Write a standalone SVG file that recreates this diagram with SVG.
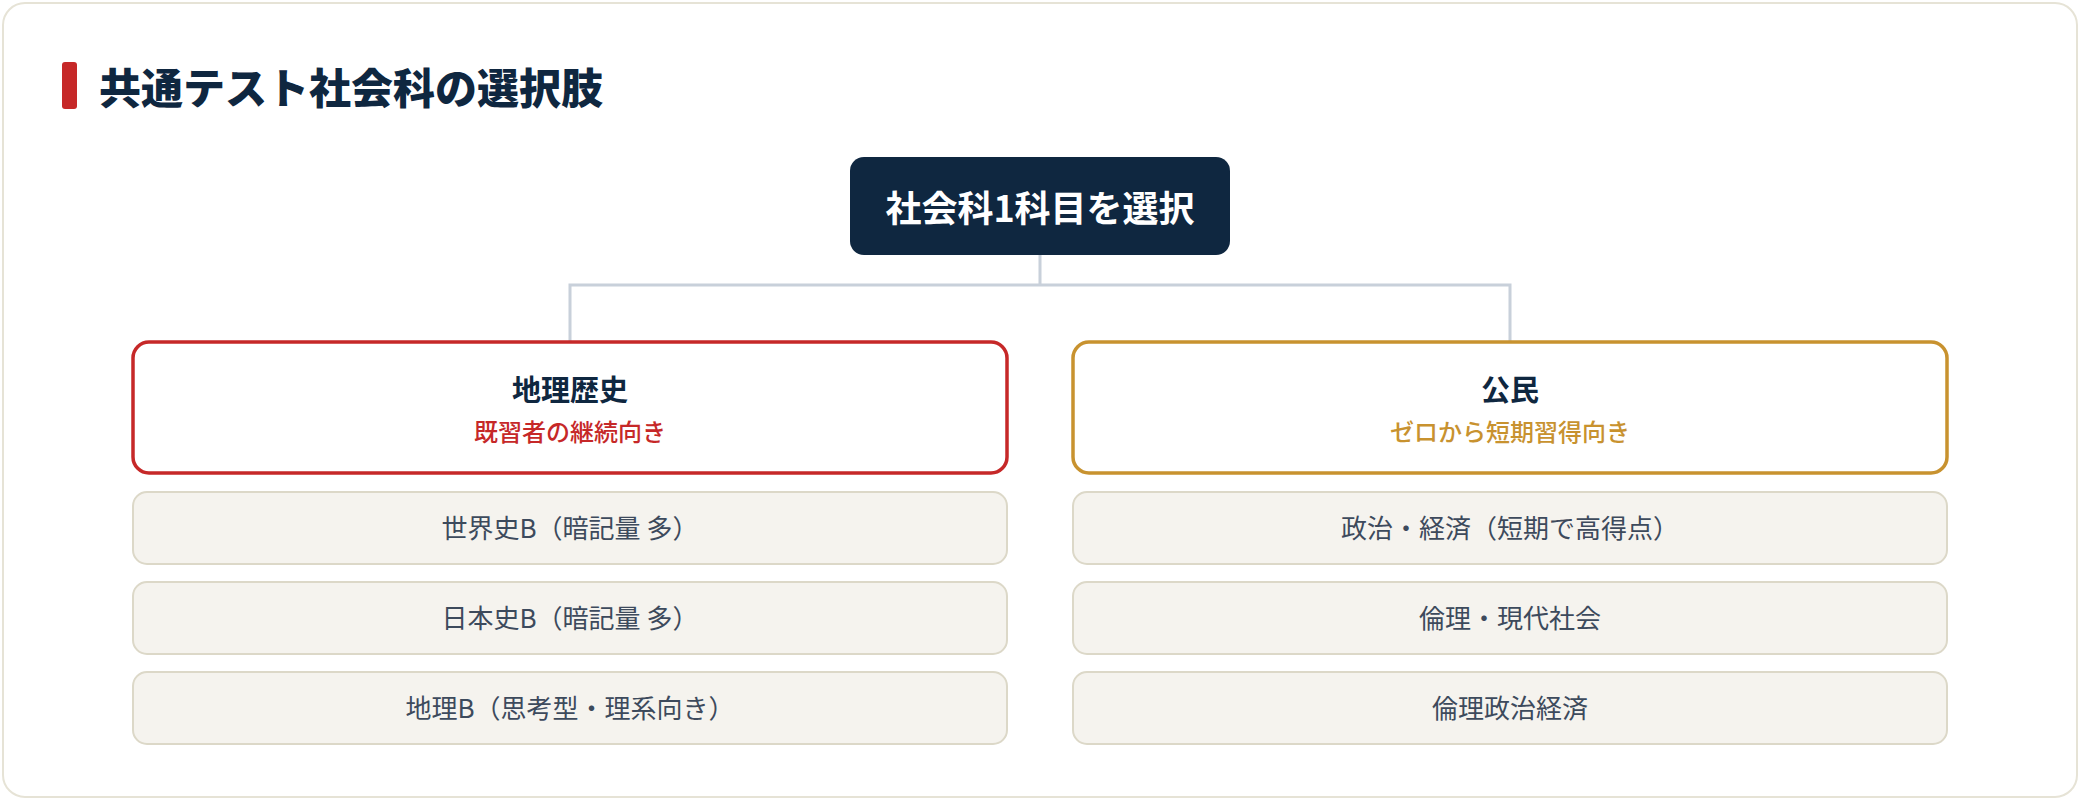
<svg xmlns="http://www.w3.org/2000/svg" width="2080" height="800" viewBox="0 0 2080 800">
  <style>
    .jp { font-family: "Noto Sans CJK JP", "Noto Sans", sans-serif; }
    .title { font-size: 42px; font-weight: 900; fill: #0f2740; }
    .root-box { fill: #0f2740; }
    .root-text { font-size: 36px; font-weight: 700; fill: #ffffff; }
    .cat-box { fill: #ffffff; stroke-width: 3.5; }
    .cat-title { font-size: 29px; font-weight: 700; fill: #0f2740; }
    .cat-sub { font-size: 24px; font-weight: 500; }
    .item-box { fill: #f5f3ee; stroke: #dcd8c8; stroke-width: 2; }
    .item-text { font-size: 26px; font-weight: 400; fill: #3d4a5c; }
    .conn { fill: none; stroke: #c8d0da; stroke-width: 3; }
  </style>

  <rect x="3" y="3" width="2074" height="794" rx="22" fill="#ffffff" stroke="#e6e3d6" stroke-width="2"/>

  <g id="heading">
    <rect x="62" y="62" width="15" height="47" rx="3" fill="#c62828"/>
    <text class="jp title" x="99" y="104">共通テスト社会科の選択肢</text>
  </g>

  <g id="connectors">
    <path class="conn" d="M1040 255 V285 M570 342 V285 H1510 V342"/>
  </g>

  <g id="root">
    <rect class="root-box" x="850" y="157" width="380" height="98" rx="14"/>
    <text class="jp root-text" x="1040" y="222" text-anchor="middle">社会科1科目を選択</text>
  </g>

  <g id="cat-geo-history">
    <rect class="cat-box" x="133" y="342" width="874" height="131" rx="16" stroke="#c62828"/>
    <text class="jp cat-title" x="570" y="401" text-anchor="middle">地理歴史</text>
    <text class="jp cat-sub" x="570" y="441" text-anchor="middle" fill="#c62828">既習者の継続向き</text>
  </g>

  <g id="cat-civics">
    <rect class="cat-box" x="1073" y="342" width="874" height="131" rx="16" stroke="#c8922f"/>
    <text class="jp cat-title" x="1510" y="401" text-anchor="middle">公民</text>
    <text class="jp cat-sub" x="1510" y="441" text-anchor="middle" fill="#c8922f">ゼロから短期習得向き</text>
  </g>

  <g id="item-world-history">
    <rect class="item-box" x="133" y="492" width="874" height="72" rx="14"/>
    <text class="jp item-text" x="570" y="538" text-anchor="middle">世界史B（暗記量 多）</text>
  </g>
  <g id="item-japanese-history">
    <rect class="item-box" x="133" y="582" width="874" height="72" rx="14"/>
    <text class="jp item-text" x="570" y="628" text-anchor="middle">日本史B（暗記量 多）</text>
  </g>
  <g id="item-geography">
    <rect class="item-box" x="133" y="672" width="874" height="72" rx="14"/>
    <text class="jp item-text" x="570" y="718" text-anchor="middle">地理B（思考型・理系向き）</text>
  </g>

  <g id="item-politics-economy">
    <rect class="item-box" x="1073" y="492" width="874" height="72" rx="14"/>
    <text class="jp item-text" x="1510" y="538" text-anchor="middle">政治・経済（短期で高得点）</text>
  </g>
  <g id="item-ethics-society">
    <rect class="item-box" x="1073" y="582" width="874" height="72" rx="14"/>
    <text class="jp item-text" x="1510" y="628" text-anchor="middle">倫理・現代社会</text>
  </g>
  <g id="item-ethics-politics-economy">
    <rect class="item-box" x="1073" y="672" width="874" height="72" rx="14"/>
    <text class="jp item-text" x="1510" y="718" text-anchor="middle">倫理政治経済</text>
  </g>
</svg>
